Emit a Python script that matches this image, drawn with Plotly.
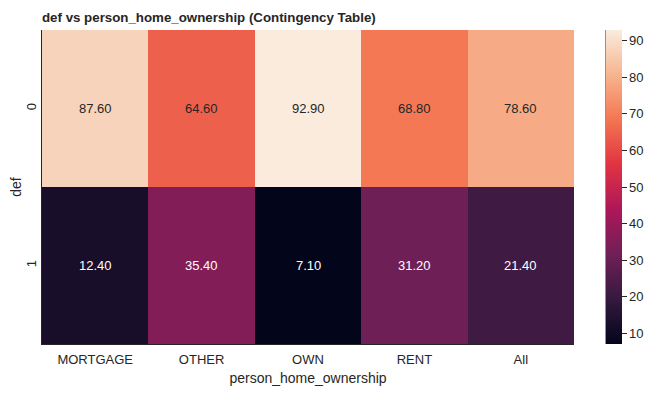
import plotly.graph_objects as go

categories = ["MORTGAGE", "OTHER", "OWN", "RENT", "All"]
rows = ["0", "1"]
row0 = [87.60, 64.60, 92.90, 68.80, 78.60]
row1 = [12.40, 35.40, 7.10, 31.20, 21.40]
z = [row0, row1]

rocket = [
    [0.0, "#03051A"], [1/7, "#35193E"], [2/7, "#701F57"], [3/7, "#AD1759"],
    [4/7, "#E13342"], [5/7, "#F37651"], [6/7, "#F6B48F"], [1.0, "#FAEBDD"],
]

zmin = min(min(r) for r in z)
zmax = max(max(r) for r in z)

FONT = "Liberation Sans, Arial, sans-serif"
FS = 13
FT = 14
W, H = 657, 397
OFF = 8  # page body margin
L, T = 42 - OFF, 30 - OFF
PW, PH = 532, 314
R = W - L - PW
B = H - T - PH
CBX = (606 - 42) / PW
NB = "\u00a0"

fig = go.Figure(go.Heatmap(
    z=z, x=categories, y=rows, colorscale=rocket, zmin=zmin, zmax=zmax,
    xgap=0, ygap=0,
    colorbar=dict(
        x=CBX, xanchor="left", xref="paper", y=0.5, yanchor="middle", len=1, lenmode="fraction",
        thickness=16, xpad=0, ypad=0, outlinewidth=0, ticks="outside", ticklen=5, tickwidth=1, tickcolor="#262626",
        tickvals=[10, 20, 30, 40, 50, 60, 70, 80, 90], tickprefix=NB,
        tickfont=dict(family=FONT, size=FS, color="#262626"),
    ),
))

annotations = []
for ri, r in enumerate(z):
    for ci, v in enumerate(r):
        frac = (v - zmin) / (zmax - zmin)
        color = "#262626" if frac > 0.55 else "white"
        annotations.append(dict(x=categories[ci], y=rows[ri], text=f"{v:.2f}", showarrow=False,
                                font=dict(family=FONT, size=FS, color=color)))

fig.update_layout(
    width=W, height=H,
    margin=dict(l=L, r=R, t=T, b=B, autoexpand=False),
    paper_bgcolor="white", plot_bgcolor="white",
    font=dict(family=FONT, size=FS, color="#262626"),
    title=dict(text="<b>def vs person_home_ownership (Contingency Table)</b>", x=L/W, xanchor="left",
               xref="container", y=1 - (17 - OFF)/H, yanchor="middle", yref="container",
               font=dict(size=13.3, color="#262626")),
    annotations=annotations,
    xaxis=dict(title=dict(text="person_home_ownership", standoff=7, font=dict(size=FT)),
               tickfont=dict(size=FS), showline=True, linecolor="#262626", linewidth=1,
               mirror=False, ticks="outside", ticklen=3, tickcolor="rgba(0,0,0,0)", showgrid=False, zeroline=False,
               automargin=False),
    yaxis=dict(title=dict(text="def", standoff=3, font=dict(size=FT)), tickfont=dict(size=FS),
               autorange="reversed", showline=True, linecolor="#262626",
               linewidth=1, ticks="", tickangle=-90, showgrid=False, zeroline=False, automargin=False),
    shapes=[dict(type="line", xref="paper", yref="paper", x0=CBX, x1=CBX, y0=0, y1=1,
                 line=dict(color="#262626", width=1))],
)

fig.write_html("out.html")
